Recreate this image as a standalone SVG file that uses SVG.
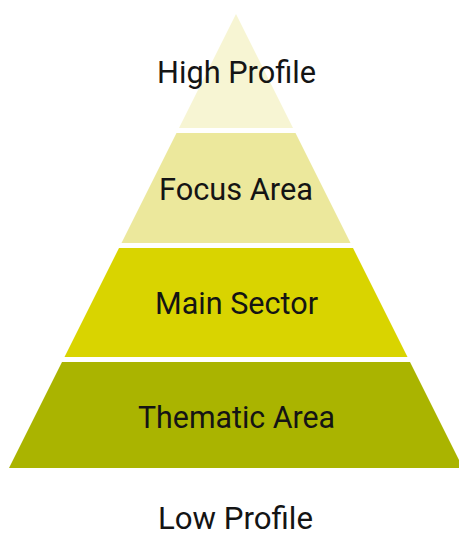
<svg xmlns="http://www.w3.org/2000/svg" width="459" height="538" viewBox="0 0 459 538">
  <style>
    .label { font-family: Roboto, "Liberation Sans", sans-serif; font-size: 32px; fill: #141414; text-anchor: middle; }
    .l1 { fill: #f7f5d3; }
    .l2 { fill: #ece89c; }
    .l3 { fill: #d9d400; }
    .l4 { fill: #aab400; }
  </style>
  <rect width="459" height="538" fill="#ffffff"/>
  <!-- pyramid tiers: apex (236,14), sides slope 0.5 -->
  <g id="tier-high-profile">
    <polygon class="l1" points="236,14 293,128 179,128"/>
    <text class="label" x="236.5" y="83" textLength="159" lengthAdjust="spacingAndGlyphs">High Profile</text>
  </g>
  <g id="tier-focus-area">
    <polygon class="l2" points="176.5,133 295.5,133 350.5,243 121.5,243"/>
    <text class="label" x="236" y="200" textLength="154" lengthAdjust="spacingAndGlyphs">Focus Area</text>
  </g>
  <g id="tier-main-sector">
    <polygon class="l3" points="119,248 353,248 407.5,357 64.5,357"/>
    <text class="label" x="236.5" y="314" textLength="163" lengthAdjust="spacingAndGlyphs">Main Sector</text>
  </g>
  <g id="tier-thematic-area">
    <polygon class="l4" points="62,362 410,362 463,468 9,468"/>
    <text class="label" x="236.5" y="428" textLength="197" lengthAdjust="spacingAndGlyphs">Thematic Area</text>
  </g>
  <g id="base-label">
    <text class="label" x="235.5" y="529" textLength="155" lengthAdjust="spacingAndGlyphs">Low Profile</text>
  </g>
</svg>
